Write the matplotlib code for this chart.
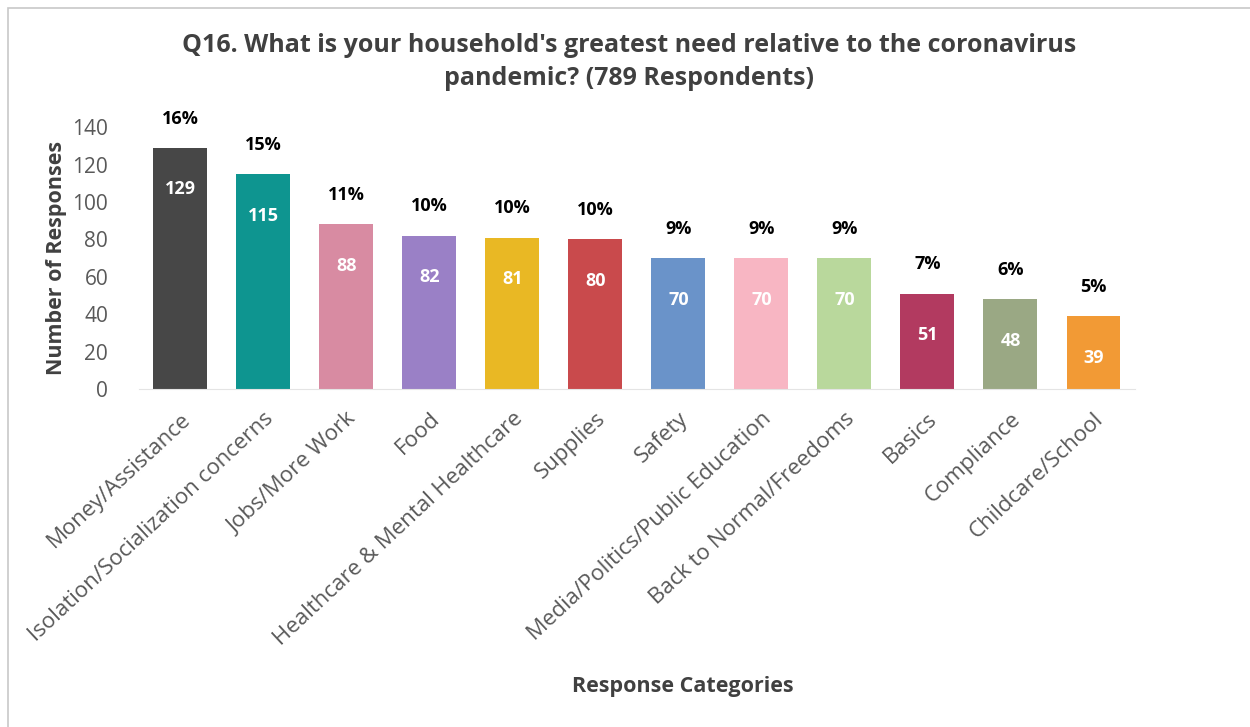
import matplotlib
matplotlib.use('Agg')
import matplotlib.pyplot as plt
import matplotlib.transforms as mtransforms
from matplotlib.patches import Rectangle

categories = ['Money/Assistance', 'Isolation/Socialization concerns', 'Jobs/More Work', 'Food',
              'Healthcare & Mental Healthcare', 'Supplies', 'Safety', 'Media/Politics/Public Education',
              'Back to Normal/Freedoms', 'Basics', 'Compliance', 'Childcare/School']
counts = [129, 115, 88, 82, 81, 80, 70, 70, 70, 51, 48, 39]
percents = ['16%', '15%', '11%', '10%', '10%', '10%', '9%', '9%', '9%', '7%', '6%', '5%']
colors = ['#474747', '#0e9590', '#d88ba2', '#9a80c6', '#e9b824', '#c94a4c',
          '#6a93c9', '#f8b6c3', '#b9d89c', '#b23a60', '#9aa884', '#f29a35']

plt.rcParams['font.family'] = ['Open Sans', 'DejaVu Sans']

fig = plt.figure(figsize=(12.5, 7.27), dpi=100)
fig.patches.append(Rectangle((0.006, -0.01), 1.0, 0.999, transform=fig.transFigure,
                             fill=False, edgecolor='#c8c8c8', linewidth=1.2))
ax = fig.add_axes([0.111, 0.465, 0.797, 0.36])

x = range(len(categories))
bars = ax.bar(x, counts, width=0.65, color=colors)
ax.set_xlim(-0.5, len(categories) - 0.5)
ax.set_ylim(0, 140)
ax.set_yticks(range(0, 141, 20))

for i, b in enumerate(bars):
    ax.annotate(percents[i], (b.get_x() + b.get_width() / 2, counts[i]), xytext=(0, 21),
                textcoords='offset points', ha='center', va='center', fontsize=13,
                fontweight='bold', color='black')
    ax.annotate(str(counts[i]), (b.get_x() + b.get_width() / 2, counts[i]), xytext=(0, -30),
                textcoords='offset points', ha='center', va='center', fontsize=13,
                fontweight='bold', color='white')

ax.set_xticks(list(x))
ax.set_xticklabels(categories, rotation=43, ha='right', rotation_mode='anchor',
                   fontsize=16, color='#595959')
shift = mtransforms.ScaledTranslation(12 / 100, 0, fig.dpi_scale_trans)
for lbl in ax.get_xticklabels():
    lbl.set_transform(lbl.get_transform() + shift)
ax.tick_params(axis='y', labelsize=15, labelcolor='#595959', length=0, pad=22)
ax.tick_params(axis='x', length=0, pad=14)
for s in ['top', 'right', 'left']:
    ax.spines[s].set_visible(False)
ax.spines['bottom'].set_color('#e4e4e4')

ax.set_ylabel('Number of Responses', fontsize=15.5, fontweight='bold', color='#404040', labelpad=4)
fig.text(0.546, 0.048, 'Response Categories', ha='center', fontsize=15.5, fontweight='bold',
         color='#404040')
fig.text(0.503, 0.915, "Q16. What is your household's greatest need relative to the coronavirus\npandemic? (789 Respondents)",
         ha='center', va='center', fontsize=18, fontweight='bold', color='#404040', linespacing=1.45)

fig.savefig('out.png', dpi=100)
